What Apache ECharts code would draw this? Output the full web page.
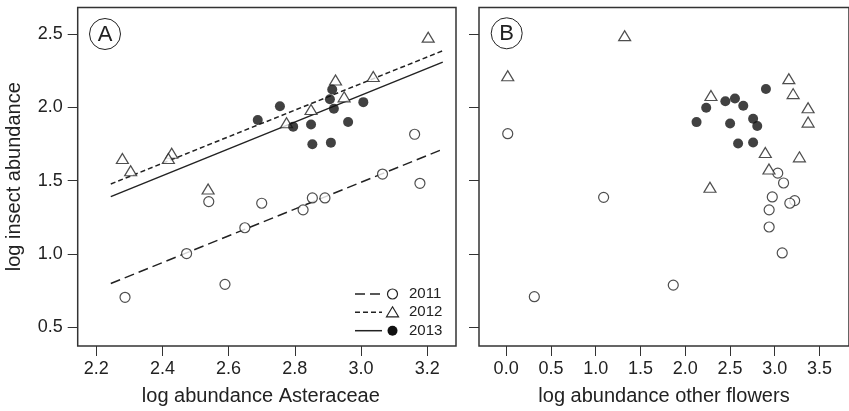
<!DOCTYPE html>
<html>
<head>
<meta charset="utf-8">
<script src="https://cdn.jsdelivr.net/npm/echarts@6/dist/echarts.min.js"></script>
<style>
  html, body { margin: 0; padding: 0; background: #fff; }
  #chart { width: 849px; height: 411px; }
</style>
</head>
<body>
<div id="chart"></div>
<script>
// panel A: log abundance Asteraceae vs log insect abundance
const a2011X = [2.287, 2.473, 2.589, 2.540, 2.649, 2.700, 2.825, 2.853, 2.891, 3.065, 3.178, 3.162];
const a2011Y = [0.705, 1.003, 0.793, 1.357, 1.179, 1.346, 1.301, 1.382, 1.382, 1.545, 1.482, 1.816];
const a2012X = [2.279, 2.304, 2.428, 2.418, 2.538, 2.775, 2.849, 2.923, 2.949, 3.037, 3.203];
const a2012Y = [1.651, 1.567, 1.687, 1.651, 1.443, 1.895, 1.985, 2.186, 2.071, 2.210, 2.478];
const a2013X = [2.688, 2.755, 2.913, 2.906, 3.007, 2.918, 2.795, 2.849, 2.961, 2.853, 2.909];
const a2013Y = [1.913, 2.007, 2.121, 2.055, 2.035, 1.990, 1.868, 1.883, 1.900, 1.748, 1.759];

// fitted lines (end points)
const fitX = [2.244, 3.247];
const fit2011 = [0.799, 1.714];
const fit2012 = [1.477, 2.385];
const fit2013 = [1.391, 2.308];

// panel B: log abundance other flowers vs log insect abundance
const b2011X = [0.018, 1.089, 0.315, 3.034, 3.099, 2.973, 2.938, 3.223, 3.169, 2.938, 3.084, 1.867];
const b2011Y = [1.820, 1.386, 0.709, 1.551, 1.484, 1.389, 1.301, 1.364, 1.346, 1.184, 1.007, 0.788];
const b2012X = [1.324, 0.018, 3.158, 3.206, 3.373, 3.373, 2.288, 2.895, 3.276, 2.936, 2.277];
const b2012Y = [2.488, 2.215, 2.195, 2.093, 1.997, 1.899, 2.080, 1.692, 1.662, 1.579, 1.455];
const b2013X = [2.902, 2.235, 2.449, 2.556, 2.649, 2.127, 2.502, 2.759, 2.805, 2.591, 2.759];
const b2013Y = [2.125, 1.997, 2.041, 2.060, 2.010, 1.899, 1.890, 1.922, 1.872, 1.753, 1.760];

const xTicksA = [2.2, 2.4, 2.6, 2.8, 3.0, 3.2];
const xTicksB = [0.0, 0.5, 1.0, 1.5, 2.0, 2.5, 3.0, 3.5];
const yTicks = [0.5, 1.0, 1.5, 2.0, 2.5];
const years = ['2011', '2012', '2013'];

const FONT = '"Liberation Sans", Arial, Helvetica, sans-serif';
const INK = '#222';

const pairs = (xs, ys) => xs.map((x, i) => [x, ys[i]]);

const markers = {
  '2011': { symbol: 'circle', symbolSize: 10, itemStyle: { color: '#fff', borderColor: INK, borderWidth: 1.2 } },
  '2012': { symbol: 'triangle', symbolSize: [12, 10], itemStyle: { color: '#fff', borderColor: INK, borderWidth: 1.2 } },
  '2013': { symbol: 'circle', symbolSize: 10, itemStyle: { color: '#111', borderColor: '#111', borderWidth: 0 } },
};
const dashes = { '2011': [10, 5], '2012': [5, 3], '2013': 'solid' };

function scatter(year, xIdx, xs, ys) {
  return {
    type: 'scatter', xAxisIndex: xIdx, yAxisIndex: xIdx, z: 5,
    data: pairs(xs, ys), ...markers[year],
  };
}

function fitLine(year, ys) {
  return {
    type: 'line', xAxisIndex: 0, yAxisIndex: 0, z: 3, symbol: 'none',
    data: pairs(fitX, ys),
    lineStyle: { color: INK, width: 1.5, type: dashes[year] },
  };
}

function xAxis(gridIndex, min, max, ticks, name, pad) {
  return {
    type: 'value', gridIndex, min, max,
    axisLine: { show: false, onZero: false },
    splitLine: { show: false },
    axisTick: { show: true, length: 10, lineStyle: { color: '#333', width: 1 }, customValues: ticks },
    axisLabel: {
      customValues: ticks, margin: 14, color: INK, fontSize: 18, fontFamily: FONT,
      formatter: (v) => v.toFixed(1),
    },
    name, nameLocation: 'middle', nameGap: 40,
    nameTextStyle: { color: INK, fontSize: 20, fontFamily: FONT, padding: pad },
  };
}

function yAxis(gridIndex, showLabels) {
  return {
    type: 'value', gridIndex, min: 0.373, max: 2.680,
    axisLine: { show: false, onZero: false },
    splitLine: { show: false },
    axisTick: { show: true, length: 10, lineStyle: { color: '#333', width: 1 }, customValues: yTicks },
    axisLabel: {
      show: showLabels, customValues: yTicks, margin: 15, color: INK, fontSize: 18, fontFamily: FONT,
      formatter: (v) => v.toFixed(1),
    },
    name: showLabels ? 'log insect abundance' : '',
    nameLocation: 'middle', nameGap: 53,
    nameTextStyle: { color: INK, fontSize: 20, fontFamily: FONT },
  };
}

// legend drawn by hand in the lower right of panel A
const legendRows = [294, 312.3, 330.7];
const legendGraphics = [];
years.forEach((year, i) => {
  const y = legendRows[i];
  legendGraphics.push({
    type: 'line', shape: { x1: 355, y1: y, x2: 382, y2: y },
    style: { stroke: INK, lineWidth: 1.5, lineDash: dashes[year] === 'solid' ? null : dashes[year] },
  });
  if (year === '2012') {
    legendGraphics.push({
      type: 'polygon', shape: { points: [[392.5, y - 5.5], [398.5, y + 4.5], [386.5, y + 4.5]] },
      style: { fill: '#fff', stroke: INK, lineWidth: 1.2 },
    });
  } else {
    legendGraphics.push({
      type: 'circle', shape: { cx: 392.5, cy: y, r: 5 },
      style: year === '2011' ? { fill: '#fff', stroke: INK, lineWidth: 1.2 } : { fill: '#111' },
    });
  }
  legendGraphics.push({
    type: 'text', x: 409, y,
    style: { text: year, fill: INK, font: `15px ${FONT}`, verticalAlign: 'middle', align: 'left' },
  });
});

function panelTag(cx, cy, letter) {
  return [
    { type: 'circle', shape: { cx, cy, r: 15.5 }, style: { fill: 'none', stroke: INK, lineWidth: 1 } },
    { type: 'text', x: cx, y: cy + 1, style: { text: letter, fill: INK, font: `22px ${FONT}`, align: 'center', verticalAlign: 'middle' } },
  ];
}

const chart = echarts.init(document.getElementById('chart'));
chart.setOption({
  animation: false,
  backgroundColor: '#fff',
  grid: [
    { left: 77.7, top: 7.5, width: 378.3, height: 340.5, show: true, borderColor: '#333', borderWidth: 1.5, backgroundColor: 'transparent' },
    { left: 479, top: 7.5, width: 386, height: 340.5, show: true, borderColor: '#333', borderWidth: 1.5, backgroundColor: 'transparent' },
  ],
  xAxis: [
    xAxis(0, 2.144, 3.287, xTicksA, 'log abundance Asteraceae', [0, 12, 0, 0]),
    xAxis(1, -0.303, 3.830, xTicksB, 'log abundance other flowers', [0, 0, 0, 0]),
  ],
  yAxis: [yAxis(0, true), yAxis(1, false)],
  series: [
    fitLine('2011', fit2011),
    fitLine('2012', fit2012),
    fitLine('2013', fit2013),
    scatter('2011', 0, a2011X, a2011Y),
    scatter('2012', 0, a2012X, a2012Y),
    scatter('2013', 0, a2013X, a2013Y),
    scatter('2011', 1, b2011X, b2011Y),
    scatter('2012', 1, b2012X, b2012Y),
    scatter('2013', 1, b2013X, b2013Y),
  ],
  graphic: [...legendGraphics, ...panelTag(105, 34, 'A'), ...panelTag(506.7, 33.3, 'B')],
});
</script>
</body>
</html>
